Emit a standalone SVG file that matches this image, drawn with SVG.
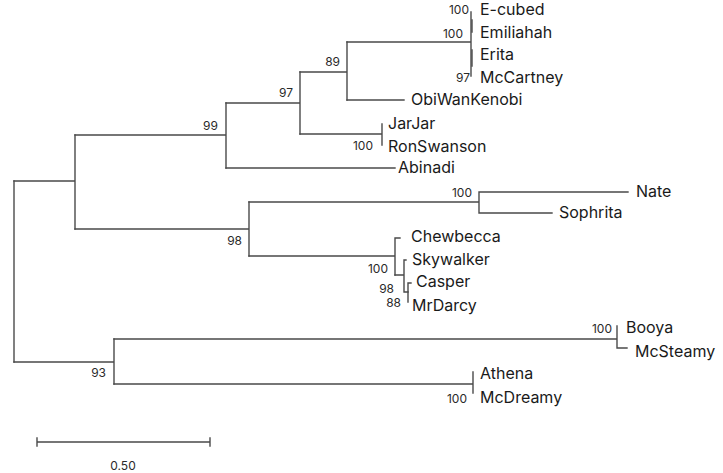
<svg xmlns="http://www.w3.org/2000/svg" width="723" height="473" viewBox="0 0 723 473">
<style>
.br{fill:none;stroke:#4a4a4a;stroke-width:1.4;stroke-linecap:square}
.leaf{font-family:Inter,"Open Sans","Liberation Sans",sans-serif;font-size:16px;fill:#1a1a1a}
.bs{font-family:Inter,"Open Sans","Liberation Sans",sans-serif;font-size:12px;fill:#2a2a2a;text-anchor:end}
</style>
<rect width="723" height="473" fill="#ffffff"/>
<g id="connectors">
<path class="br" d="M14,181 V362"/>
<path class="br" d="M14,181 H75 M75,135 V229"/>
<path class="br" d="M75,135 H226 M226,103 V168"/>
<path class="br" d="M226,103 H300 M300,72 V134"/>
<path class="br" d="M300,72 H347 M347,42 V100"/>
<path class="br" d="M347,42 H471 M471,12 V76"/>
<path class="br" d="M472,20 V32 M472,50 V66"/>
<path class="br" d="M347,100 H404"/>
<path class="br" d="M300,134 H382 M382,124 V145"/>
<path class="br" d="M226,168 H395"/>
<path class="br" d="M75,229 H249 M249,202 V256"/>
<path class="br" d="M249,202 H479 M479,192 V213 M479,192 H628 M479,213 H552"/>
<path class="br" d="M249,256 H395 M395,238 V275 M395,238 H400"/>
<path class="br" d="M395,275 H404 M404,260 V292 M404,260 H406 M404,292 H408"/>
<path class="br" d="M408,283 V302 M408,283 H411"/>
<path class="br" d="M14,362 H114 M114,339 V384"/>
<path class="br" d="M114,339 H617 M617,326 V348 M617,348 H627"/>
<path class="br" d="M114,384 H473 M473,372 V393"/>
<path class="br" d="M37,442 H210 M37,438 V446 M210,438 V446"/>
</g>
<g id="leaves">
<text class="leaf" x="480" y="15">E-cubed</text>
<text class="leaf" x="480" y="38">Emiliahah</text>
<text class="leaf" x="480" y="60">Erita</text>
<text class="leaf" x="480" y="83">McCartney</text>
<text class="leaf" x="411" y="105">ObiWanKenobi</text>
<text class="leaf" x="388" y="129">JarJar</text>
<text class="leaf" x="388" y="152">RonSwanson</text>
<text class="leaf" x="398" y="173">Abinadi</text>
<text class="leaf" x="636" y="197">Nate</text>
<text class="leaf" x="559" y="218">Sophrita</text>
<text class="leaf" x="411" y="242">Chewbecca</text>
<text class="leaf" x="412" y="265">Skywalker</text>
<text class="leaf" x="416" y="287">Casper</text>
<text class="leaf" x="412" y="311">MrDarcy</text>
<text class="leaf" x="626" y="333">Booya</text>
<text class="leaf" x="635" y="357">McSteamy</text>
<text class="leaf" x="480" y="379">Athena</text>
<text class="leaf" x="480" y="403">McDreamy</text>
</g>
<g id="support">
<text class="bs" x="469" y="14">100</text>
<text class="bs" x="463" y="38">100</text>
<text class="bs" x="470" y="82">97</text>
<text class="bs" x="340" y="66">89</text>
<text class="bs" x="293" y="97">97</text>
<text class="bs" x="218" y="130">99</text>
<text class="bs" x="373" y="150">100</text>
<text class="bs" x="242" y="245">98</text>
<text class="bs" x="472" y="197">100</text>
<text class="bs" x="388" y="273">100</text>
<text class="bs" x="394" y="293">98</text>
<text class="bs" x="401" y="307">88</text>
<text class="bs" x="612" y="333">100</text>
<text class="bs" x="467" y="403">100</text>
<text class="bs" x="106" y="377">93</text>
<text class="bs" x="123" y="470" style="text-anchor:middle">0.50</text>
</g>
</svg>
